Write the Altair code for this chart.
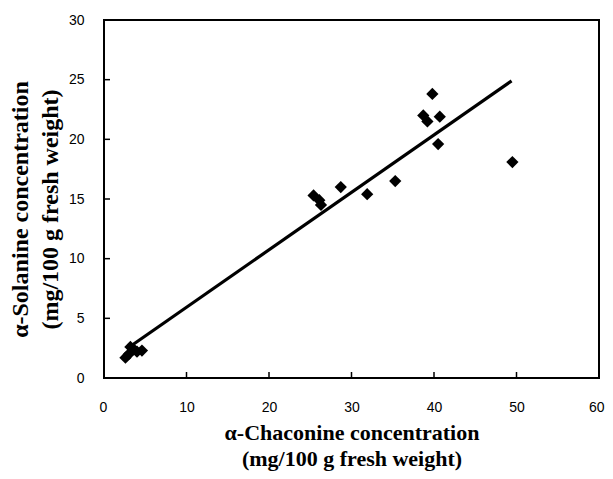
import altair as alt
import pandas as pd

chaconine = [2.6, 3.0, 3.2, 3.6, 4.0, 4.6, 25.4, 26.1, 26.3, 28.7, 31.9, 35.3,
             38.7, 39.2, 39.8, 40.5, 40.7, 49.5]
solanine = [1.7, 2.0, 2.6, 2.4, 2.2, 2.3, 15.3, 14.9, 14.5, 16.0, 15.4, 16.5,
            22.0, 21.5, 23.8, 19.6, 21.9, 18.1]
fit_x = [3.3, 49.4]
fit_y = [2.7, 24.9]
x_ticks = [10, 20, 30, 40, 50]
y_ticks = [5, 10, 15, 20, 25]

W, H = 495, 358

pts = pd.DataFrame({"x": chaconine, "y": solanine})
fit = pd.DataFrame({"x": fit_x, "y": fit_y})
xt = pd.DataFrame({"v": x_ticks})
yt = pd.DataFrame({"v": y_ticks})

xscale = alt.Scale(domain=[0, 60], nice=False, zero=False)
yscale = alt.Scale(domain=[0, 30], nice=False, zero=False)

xaxis = alt.Axis(
    values=[0, 10, 20, 30, 40, 50, 60], tickSize=0, domain=False, grid=False,
    labelFont="Liberation Sans", labelFontSize=14, labelColor="black",
    labelPadding=22, labelFlush=True, labelFlushOffset=5,
    title=["α-Chaconine concentration", "(mg/100 g fresh weight)"],
    titleFont="Liberation Serif", titleFontSize=22, titleFontWeight="bold",
    titleColor="black", titlePadding=8, titleLineHeight=26,
)
yaxis = alt.Axis(
    values=[0, 5, 10, 15, 20, 25, 30], tickSize=0, domain=False, grid=False,
    labelFont="Liberation Sans", labelFontSize=14, labelColor="black",
    labelPadding=20, labelFlush=False,
    title=["α-Solanine concentration", "(mg/100 g fresh weight)"],
    titleFont="Liberation Serif", titleFontSize=24, titleFontWeight="bold",
    titleColor="black", titlePadding=6, titleLineHeight=30, titleY=H / 2 + 10,
)

points = alt.Chart(pts).mark_point(
    shape="diamond", filled=True, color="black", size=150, opacity=1
).encode(
    x=alt.X("x:Q", scale=xscale, axis=xaxis),
    y=alt.Y("y:Q", scale=yscale, axis=yaxis),
)

line = alt.Chart(fit).mark_line(color="black", strokeWidth=3.2).encode(
    x=alt.X("x:Q", scale=xscale),
    y=alt.Y("y:Q", scale=yscale),
)

xticks = alt.Chart(xt).mark_rule(color="black", strokeWidth=1.5).encode(
    x=alt.X("v:Q", scale=xscale),
    y=alt.value(H),
    y2=alt.value(H - 6),
)
yticks = alt.Chart(yt).mark_rule(color="black", strokeWidth=1.5).encode(
    y=alt.Y("v:Q", scale=yscale),
    x=alt.value(0),
    x2=alt.value(6),
)

chart = alt.layer(line, points, xticks, yticks).properties(
    width=W, height=H,
    background="white",
    autosize=alt.AutoSizeParams(type="none"),
    padding={"left": 96, "top": 12, "right": 6, "bottom": 93},
).configure_view(stroke="black", strokeWidth=2)

chart.save("out.html", embed_options={"renderer": "svg", "actions": False})
